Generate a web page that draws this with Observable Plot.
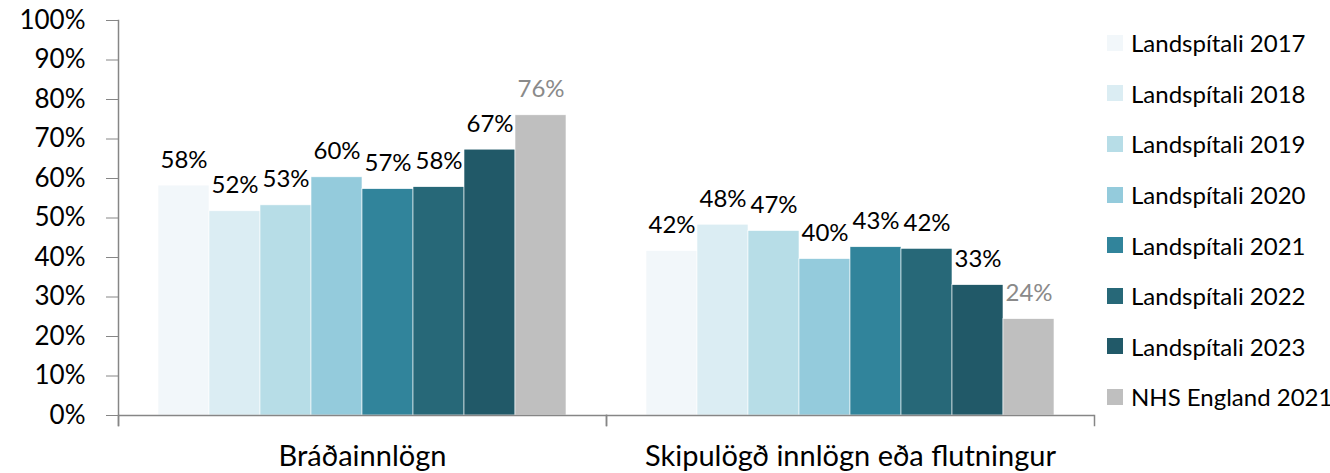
<!DOCTYPE html>
<html><head><meta charset="utf-8">
<script src="https://cdn.jsdelivr.net/npm/d3@7"></script>
<script src="https://cdn.jsdelivr.net/npm/@observablehq/plot@0.6"></script>
<style>
html,body{margin:0;padding:0;background:#fff;}
#wrap{position:relative;width:1330px;height:473px;font-family:Lato,sans-serif;}
#legend{position:absolute;left:1107px;top:17.5px;}
.item{display:flex;align-items:center;height:50.6px;font-size:24px;color:#000;white-space:nowrap;}
.sw{width:16px;height:16px;margin-right:8px;flex:none;}
</style>
</head><body>
<div id="wrap"><div id="chart"></div><div id="legend"></div></div>
<script>
const groups = ["Bráðainnlögn", "Skipulögð innlögn eða flutningur"];
const series = ["Landspítali 2017", "Landspítali 2018", "Landspítali 2019", "Landspítali 2020",
  "Landspítali 2021", "Landspítali 2022", "Landspítali 2023", "NHS England 2021"];
const colors = ["#f2f7fa", "#dbedf3", "#b7dde7", "#94cbdc", "#31849b", "#276878", "#215968", "#bfbfbf"];
const acute = [0.582, 0.517, 0.532, 0.603, 0.573, 0.578, 0.673, 0.760];
const planned = [0.416, 0.483, 0.467, 0.396, 0.426, 0.422, 0.330, 0.244];
const yTicks = [0, 0.1, 0.2, 0.3, 0.4, 0.5, 0.6, 0.7, 0.8, 0.9, 1];
const nhs = "NHS England 2021";

const groupValues = [acute, planned];
const table = groups.flatMap((g, gi) => series.map((s, si) => ({group: g, series: s, value: groupValues[gi][si]})));
const fmt = d3.format(".0%");

const W = 1330, H = 473, mT = 20, mB = 58, mL = 117, mR = 236;
const innerH = H - mT - mB;
const axisColor = "#868686";

const chart = Plot.plot({
  width: W, height: H,
  marginTop: mT, marginBottom: mB, marginLeft: mL, marginRight: mR,
  style: {fontFamily: "Lato, sans-serif", background: "#fff"},
  fx: {domain: groups, padding: 0},
  x: {domain: series, paddingInner: 0, paddingOuter: 0.7, axis: null},
  y: {domain: [0, 1]},
  color: {domain: series, range: colors},
  marks: [
    Plot.barY(table, {fx: "group", x: "series", y: "value", fill: "series", stroke: "#ffffff", strokeWidth: 0.6}),
    Plot.text(table, {filter: d => d.series !== nhs, fx: "group", x: "series", y: "value", text: d => fmt(d.value),
      lineAnchor: "bottom", dy: -18, fontSize: 24, fill: "#000"}),
    Plot.text(table, {filter: d => d.series === nhs, fx: "group", x: "series", y: "value", text: d => fmt(d.value),
      lineAnchor: "bottom", dy: -18, fontSize: 24, fill: "#8a8a8a"}),
    Plot.ruleY([0], {stroke: axisColor, strokeWidth: 1.5}),
    Plot.frame({anchor: "left", facetAnchor: "left", stroke: axisColor, strokeWidth: 1.5, insetBottom: -10}),
    Plot.frame({anchor: "left", stroke: axisColor, strokeWidth: 1.5, insetTop: innerH, insetBottom: -10}),
    Plot.frame({anchor: "right", stroke: axisColor, strokeWidth: 1.5, insetTop: innerH, insetBottom: -10}),
    Plot.axisY({ticks: yTicks, tickFormat: fmt, tickSize: 12, tickPadding: 21, fontSize: 26, stroke: axisColor, fill: "#000", label: null}),
    Plot.axisFx({anchor: "bottom", tickSize: 0, tickPadding: 30, fontSize: 29, fill: "#000", label: null})
  ]
});
document.getElementById("chart").appendChild(chart);

const legend = d3.select("#legend");
series.forEach((s, i) => {
  const it = legend.append("div").attr("class", "item");
  it.append("div").attr("class", "sw").style("background", colors[i]);
  it.append("span").text(s);
});
</script>
</body></html>
